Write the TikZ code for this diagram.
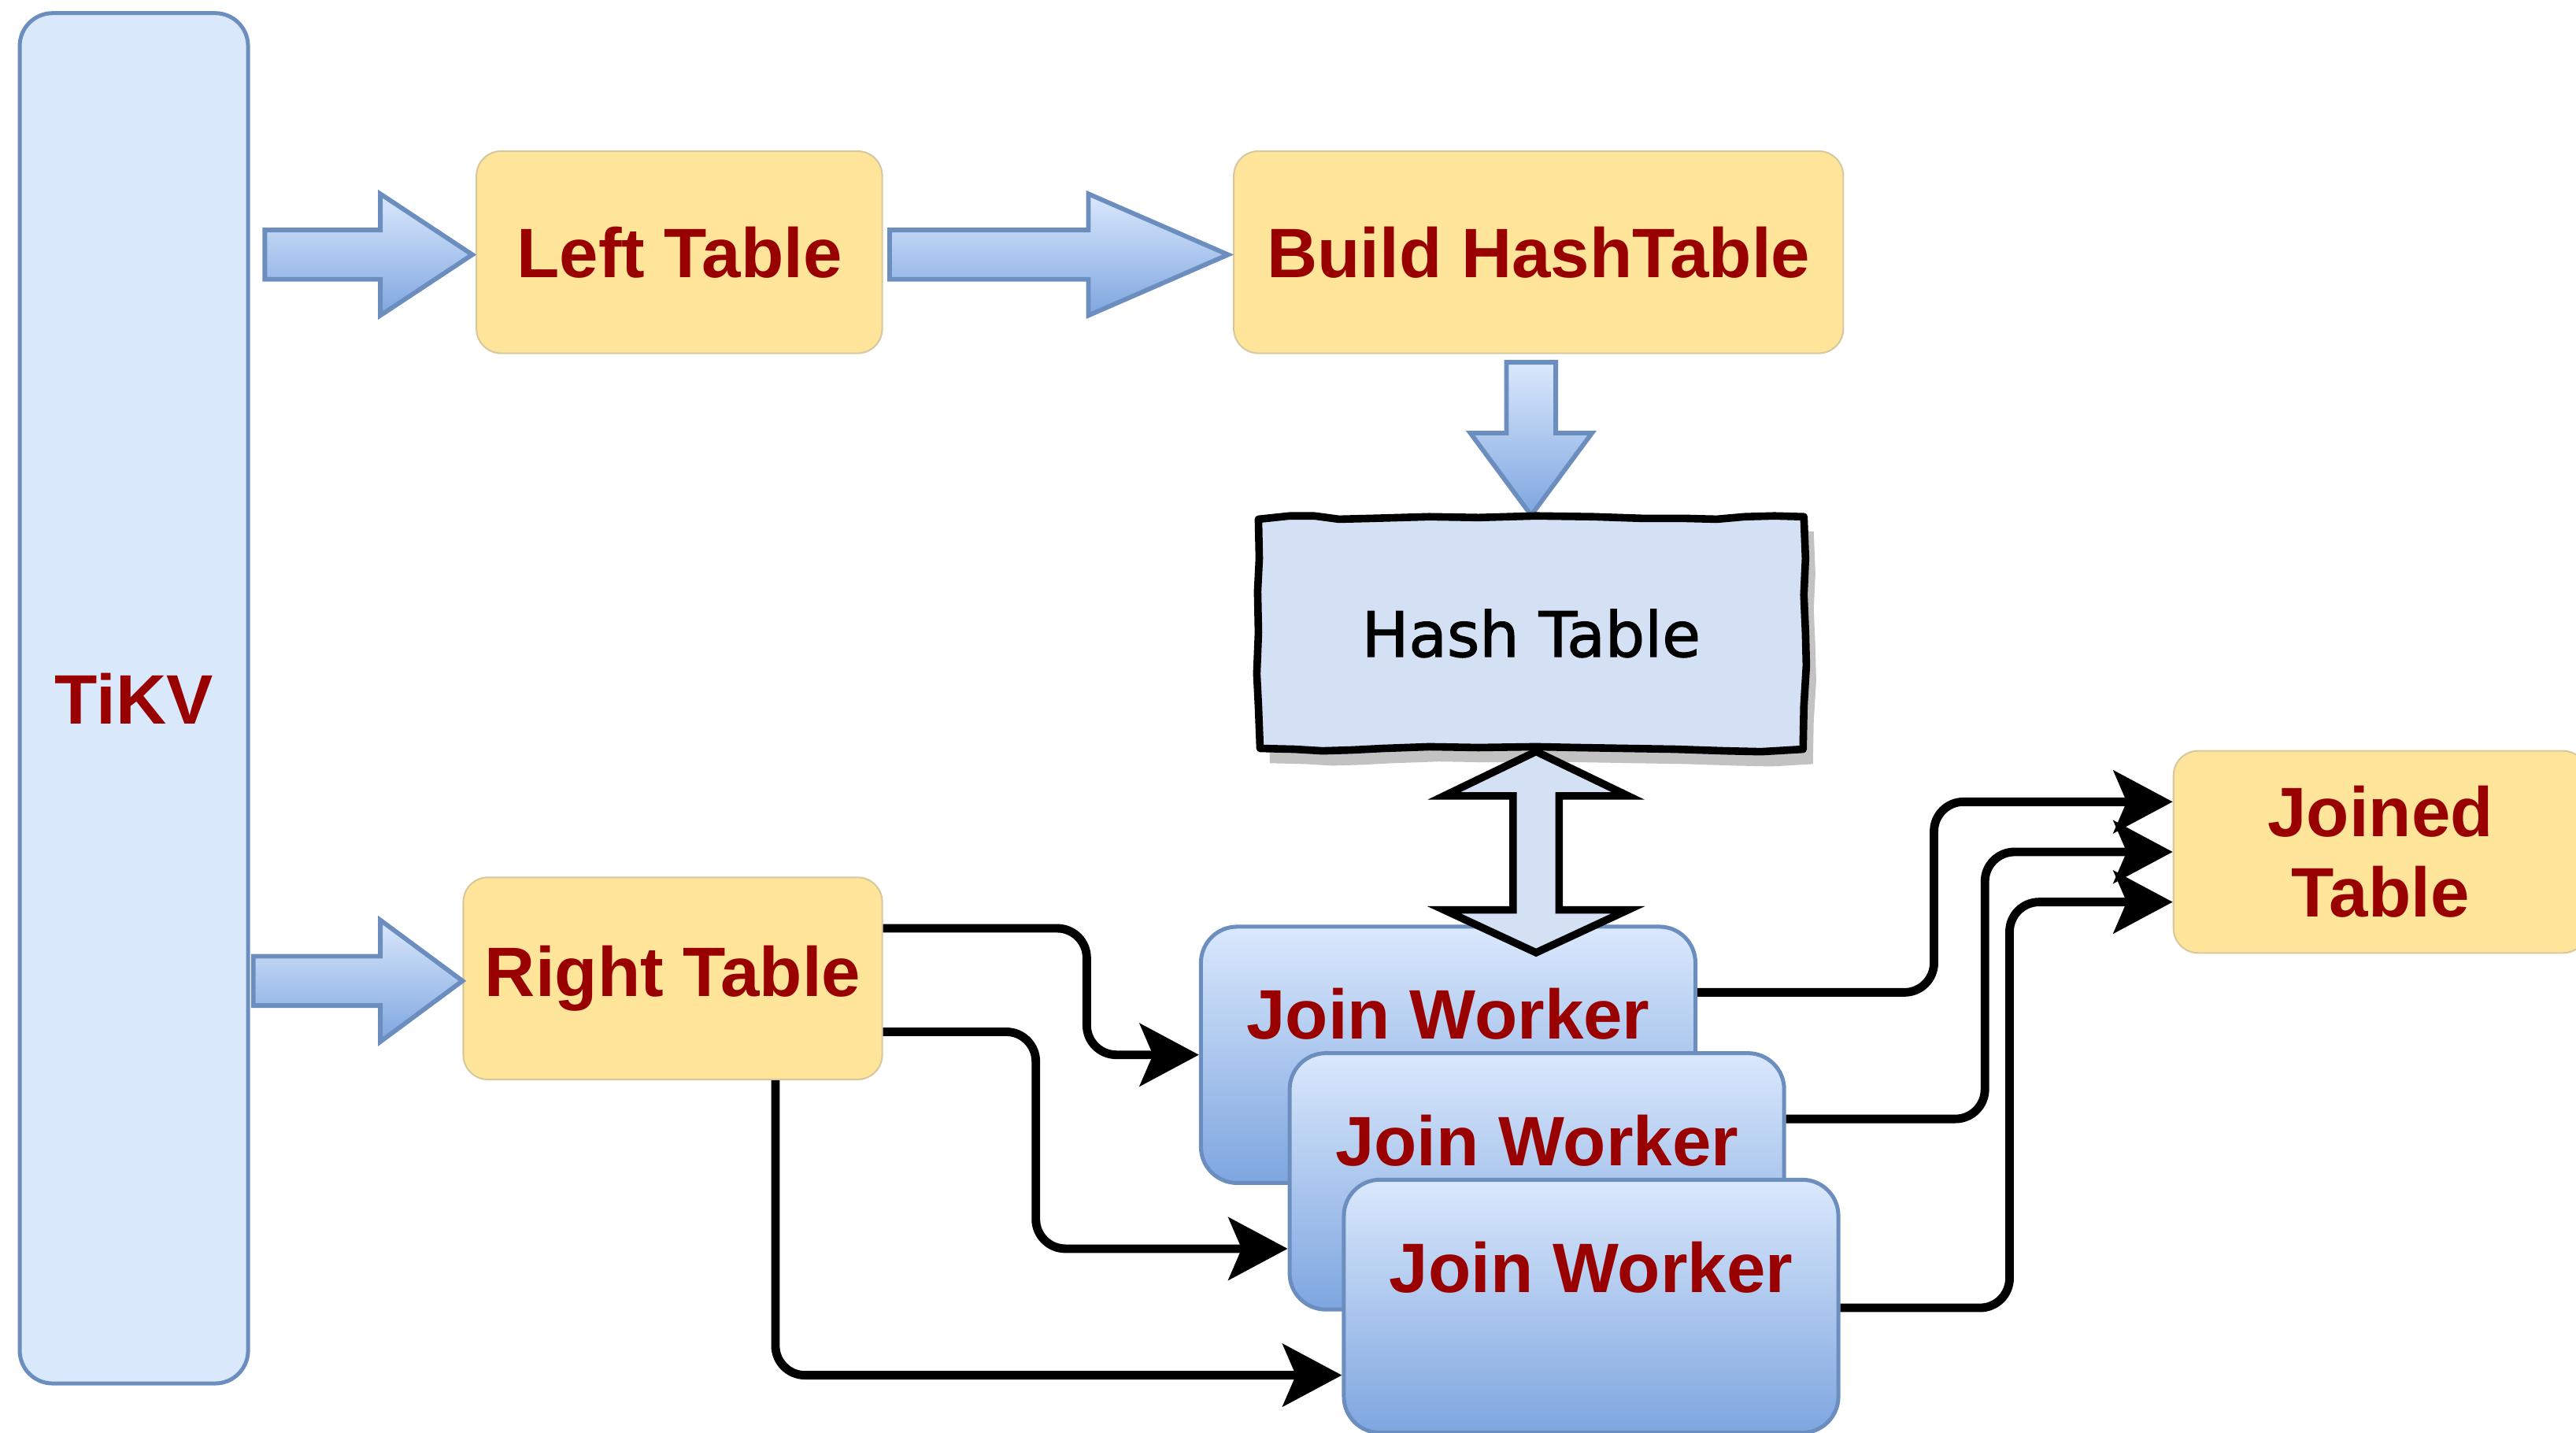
\documentclass[tikz,border=0pt]{standalone}
\usepackage{fontspec}
\setmainfont{Liberation Sans}
\newfontfamily\htfont[FakeBold=1.6]{DejaVu Sans}
\usetikzlibrary{arrows.meta,calc}
\pgfdeclarelayer{bg}
\pgfsetlayers{bg,main}
\definecolor{ylw}{HTML}{FFE599}
\definecolor{yedge}{HTML}{D7C8A0}
\definecolor{dred}{HTML}{990000}
\definecolor{lblue}{HTML}{DAE8FC}
\definecolor{dblue}{HTML}{7EA6E0}
\definecolor{sblue}{HTML}{6C8EBF}
\definecolor{hfill}{HTML}{D4E1F5}
\definecolor{shd}{HTML}{C2C2C2}
\tikzset{
  lbl/.style={font=\fontsize{21.3}{24.5}\selectfont\bfseries, text=dred},
  ybox/.style={lbl, fill=ylw, draw=yedge, line width=0.5pt, rounded corners=7.5pt,
    minimum height=61.5pt, align=center, inner sep=0pt},
  tikvbox/.style={lbl, fill=lblue, draw=sblue, line width=1.2pt, rounded corners=10pt, inner sep=0pt},
  wbox/.style={top color=lblue, bottom color=dblue, draw=sblue, line width=1.2pt,
    rounded corners=11pt, minimum width=150.5pt, inner sep=0pt},
  wlbl/.style={lbl, anchor=center, yshift=-27.25pt},
  barrow/.style={top color=lblue, bottom color=dblue, draw=sblue, line width=1.4pt, line join=miter},
  conn/.style={line width=2.6pt, rounded corners=9pt, -{Stealth[length=18pt,width=19pt,inset=4pt]}},
  sketch/.style={fill=hfill, draw=black, line width=2.3pt, line join=round},
}
\newcommand{\hblockarrow}[5]{%
  \draw[barrow] ($(#1)+(0,-#4)$) -- ($(#2)+(-#3,-#4)$) -- ($(#2)+(-#3,-#5)$) -- (#2)
    -- ($(#2)+(-#3,#5)$) -- ($(#2)+(-#3,#4)$) -- ($(#1)+(0,#4)$) -- cycle;}
\newcommand{\vblockarrow}[5]{%
  \draw[barrow] ($(#1)+(-#4,0)$) -- ($(#2)+(-#4,-#3)$) -- ($(#2)+(-#5,-#3)$) -- (#2)
    -- ($(#2)+(#5,-#3)$) -- ($(#2)+(#4,-#3)$) -- ($(#1)+(#4,0)$) -- cycle;}
\begin{document}
\begin{tikzpicture}[x=0.5pt,y=-0.5pt]
\useasboundingbox (0,0) rectangle (1568,872);

% main boxes
\node[tikvbox, minimum width=69.5pt, minimum height=417pt] (tikv) at (81.5,425) {TiKV};
\node[ybox, minimum width=123.5pt] (lt) at (413.5,153.5) {Left Table};
\node[ybox, minimum width=185.5pt] (bh) at (936.5,153.5) {Build HashTable};
\node[ybox, minimum width=127.5pt] (rt) at (409.5,595.5) {Right Table};
\node[ybox, minimum width=126pt] (jt) at (1449,518.5) {Joined\\Table};

% hash table (hand drawn)
\node[minimum width=167pt, minimum height=72.5pt, inner sep=0pt,
      font=\htfont\fontsize{19}{21}\selectfont] (ht) at (932,385.5) {Hash Table};

% block arrows
\coordinate (a1s) at ($(tikv.east|-lt.west)+(9,1.5)$);
\coordinate (a1e) at ($(lt.west)+(-2,1.5)$);
\hblockarrow{a1s}{a1e}{56}{15}{37}
\coordinate (a2s) at ($(lt.east)+(4,1.5)$);
\coordinate (a2e) at ($(bh.west)+(-3,1.5)$);
\hblockarrow{a2s}{a2e}{85}{15}{37}
\coordinate (a4s) at ($(tikv.east|-rt.west)+(2,1.5)$);
\coordinate (a4e) at ($(rt.west)+(0,1.5)$);
\hblockarrow{a4s}{a4e}{50}{15}{37}

\begin{pgfonlayer}{bg}
\coordinate (a3s) at ($(bh.south)+(-4.5,5)$);
\coordinate (a3e) at ($(ht.north)+(0,1)$);
\vblockarrow{a3s}{a3e}{50}{15}{37}
\begin{scope}[shift={(6,9)}]
\fill[shd] (766,316) -- (785,314) -- (800,314) -- (815,316) -- (835,315.5) -- (870,314.5) -- (900,315)
  -- (935,314) -- (970,314.5) -- (1000,315.5) -- (1025,315.5) -- (1045,316) -- (1062,314.5) -- (1080,314)
  -- (1098,314.5) -- (1099,340) -- (1098,362) -- (1099,385) -- (1099.5,405) -- (1098,430) -- (1097.5,456)
  -- (1072,457.5) -- (1050,457) -- (1020,456) -- (990,455.5) -- (960,455) -- (935,454.5) -- (900,455)
  -- (870,454.5) -- (842,455.5) -- (822,456.5) -- (805,457) -- (788,456) -- (767,455.5) -- (766,430)
  -- (765,410) -- (766,385) -- (765.5,360) -- (766.5,340) -- cycle;
\end{scope}
\draw[sketch] (766,316) -- (785,314) -- (800,314) -- (815,316) -- (835,315.5) -- (870,314.5) -- (900,315)
  -- (935,314) -- (970,314.5) -- (1000,315.5) -- (1025,315.5) -- (1045,316) -- (1062,314.5) -- (1080,314)
  -- (1098,314.5) -- (1099,340) -- (1098,362) -- (1099,385) -- (1099.5,405) -- (1098,430) -- (1097.5,456)
  -- (1072,457.5) -- (1050,457) -- (1020,456) -- (990,455.5) -- (960,455) -- (935,454.5) -- (900,455)
  -- (870,454.5) -- (842,455.5) -- (822,456.5) -- (805,457) -- (788,456) -- (767,455.5) -- (766,430)
  -- (765,410) -- (766,385) -- (765.5,360) -- (766.5,340) -- cycle;
\end{pgfonlayer}

% join workers
\node[wbox, minimum height=78pt, label={[wlbl]north:Join Worker}] (jw1) at (881.5,642) {};
\node[wbox, minimum height=78pt, label={[wlbl]north:Join Worker}] (jw2) at (935.5,719) {};
\node[wbox, minimum height=77pt, label={[wlbl]north:Join Worker}] (jw3) at (968.5,795) {};

% double arrow between hash table and first worker
\coordinate (dt) at ($(ht.south)+(3,-1)$);
\coordinate (db) at ($(jw1.north)+(53.5,17)$);
\begin{scope}[shift={(6,9)}]
\fill[shd] (dt) -- ($(dt)+(56,27)$) -- ($(dt)+(14,27)$) -- ($(db)+(14,-26)$) -- ($(db)+(56,-26)$)
  -- (db) -- ($(db)+(-56,-26)$) -- ($(db)+(-14,-26)$) -- ($(dt)+(-14,27)$) -- ($(dt)+(-56,27)$) -- cycle;
\end{scope}
\draw[sketch, line join=miter] (dt) -- ($(dt)+(56,27)$) -- ($(dt)+(14,27)$) -- ($(db)+(14,-26)$) -- ($(db)+(56,-26)$)
  -- (db) -- ($(db)+(-56,-26)$) -- ($(db)+(-14,-26)$) -- ($(dt)+(-14,27)$) -- ($(dt)+(-56,27)$) -- cycle;

% connectors
\draw[conn] ($(rt.east)+(0,-30.5)$) -- ++(124,0) |- (jw1.west);
\draw[conn] ($(rt.east)+(0,32.5)$) -- ++(93,0) |- ($(jw2.west)+(0,41)$);
\draw[conn] ($(rt.south)+(62.5,0)$) |- ($(jw3.west)+(0,42)$);
\draw[conn] ($(jw1.east)+(0,-38)$) -- ++(144,0) |- ($(jt.west)+(0,-30.5)$);
\draw[conn] ($(jw2.east)+(0,-38)$) -- ++(121,0) |- (jt.west);
\draw[conn] ($(jw3.east)+(0,1)$) -- ++(103,0) |- ($(jt.west)+(0,30.5)$);
\end{tikzpicture}
\end{document}
